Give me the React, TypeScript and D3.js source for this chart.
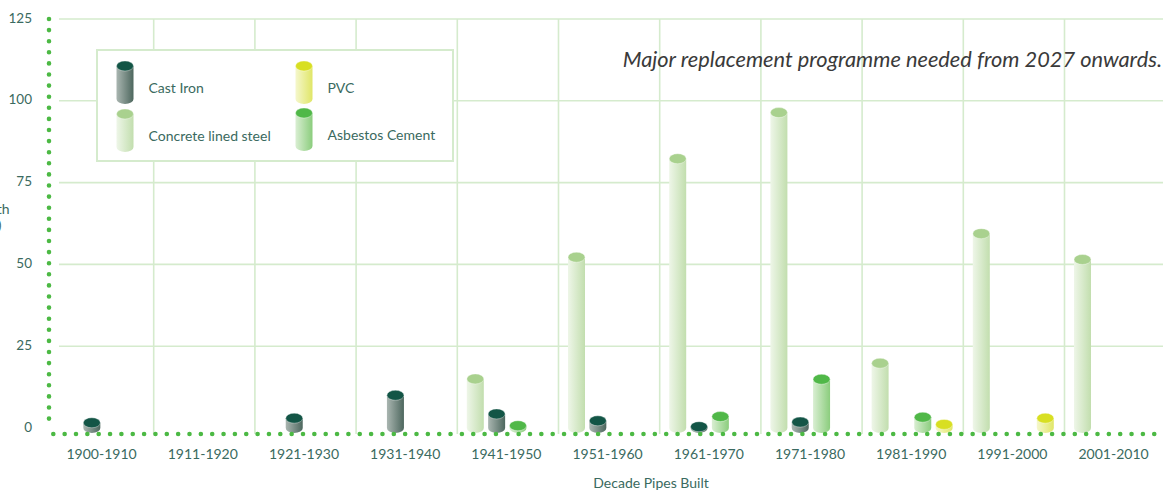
import React from "react";
import * as d3 from "d3";

const categories = ["1900-1910","1911-1920","1921-1930","1931-1940","1941-1950","1951-1960","1961-1970","1971-1980","1981-1990","1991-2000","2001-2010"];
const seriesNames = ["Concrete lined steel","Cast Iron","Asbestos Cement","PVC"];
const concreteLinedSteel = [0,0,0,0,15,52.2,82.3,96.4,19.8,59.4,51.5];
const castIron = [1.6,0,3,10,4.3,2.2,0.4,1.8,0,0,0];
const asbestosCement = [0,0,0,0,0.7,0,3.5,14.9,3.3,0,0];
const pvc = [0,0,0,0,0,0,0,0,1.1,3,0];
const yTicks = [0,25,50,75,100,125];

const W = 1163, H = 490;
const FONT = "Lato, 'Open Sans', sans-serif";
const TXT = "#3a6a60";
const GRID = "#d5ebcd";
const DOT = "#4cb944";

const styles: Record<string, {top: string; left: string; right: string}> = {
  "Concrete lined steel": { top: "#a9d18e", left: "#eef6e8", right: "#c2deae" },
  "Cast Iron": { top: "#135546", left: "#aab6b1", right: "#4d675e" },
  "Asbestos Cement": { top: "#50b848", left: "#d9eed2", right: "#8bcd7d" },
  "PVC": { top: "#d8df22", left: "#f5f7cc", right: "#e0e667" },
};
const gradId = (s: string) => "g-" + s.replace(/\s+/g, "-");

function Cylinder({ cx, yTop, yBot, name }: { cx: number; yTop: number; yBot: number; name: string }) {
  const rx = 8.5, ry = 5;
  const st = styles[name];
  const body = `M${cx - rx},${yTop} L${cx - rx},${yBot} A${rx},${ry} 0 0 0 ${cx + rx},${yBot} L${cx + rx},${yTop} Z`;
  return (
    <g>
      <path d={body} fill={`url(#${gradId(name)})`} />
      <ellipse cx={cx} cy={yTop} rx={rx} ry={ry} fill={st.top} stroke="rgba(255,255,255,0.45)" strokeWidth={0.8} />
    </g>
  );
}

export default function App() {
  const x = d3.scaleBand<string>().domain(categories).range([52.5, 52.5 + 11 * 101.2]).padding(0);
  const xi = d3.scaleBand<string>().domain(seriesNames).range([9.5, 90.5]).paddingInner(0.203).paddingOuter(0);
  const y = d3.scaleLinear().domain([0, 125]).range([428, 19]);
  const values: Record<string, number[]> = {
    "Concrete lined steel": concreteLinedSteel,
    "Cast Iron": castIron,
    "Asbestos Cement": asbestosCement,
    "PVC": pvc,
  };
  const boundaries = categories.slice(1).map((c) => x(c)!);
  const axisY = 434;

  const legendItems = [
    { name: "Cast Iron", lx: 125, ly: 66 },
    { name: "Concrete lined steel", lx: 125, ly: 114 },
    { name: "PVC", lx: 304, ly: 66 },
    { name: "Asbestos Cement", lx: 304, ly: 113 },
  ];

  return (
    <svg width={W} height={H} style={{ position: "absolute", left: 0, top: 0, background: "#fff" }} fontFamily={FONT}>
      <defs>
        {seriesNames.map((s) => (
          <linearGradient key={s} id={gradId(s)} x1="0" x2="1" y1="0" y2="0">
            <stop offset="0" stopColor={styles[s].left} />
            <stop offset="1" stopColor={styles[s].right} />
          </linearGradient>
        ))}
      </defs>

      {/* grid */}
      {yTicks.filter((t) => t > 0).map((t) => (
        <line key={t} x1={59} x2={W} y1={y(t)} y2={y(t)} stroke={GRID} strokeWidth={1.6} />
      ))}
      {boundaries.map((b, i) => (
        <line key={i} x1={b} x2={b} y1={y(125)} y2={axisY} stroke={GRID} strokeWidth={1.6} />
      ))}

      {/* y tick labels */}
      {yTicks.map((t) => (
        <text key={t} x={32} y={y(t) - 1.5} textAnchor="end" dominantBaseline="central" fontSize={13.5} fill={TXT}>{t}</text>
      ))}
      <text x={-11.5} y={214} textAnchor="middle" fontSize={14} fill={TXT}>Length</text>
      <text x={-11.5} y={230} textAnchor="middle" fontSize={14} fill={TXT}>(km)</text>

      {/* title */}
      <text x={1162} y={67} textAnchor="end" fontSize={21.8} fontStyle="italic" fontWeight={400} fill="#3a3a3a">Major replacement programme needed from 2027 onwards.</text>

      {/* legend */}
      <rect x={97} y={50} width={356} height={111} fill="#fff" stroke={GRID} strokeWidth={2} />
      {legendItems.map((it) => (
        <g key={it.name}>
          <Cylinder cx={it.lx} yTop={it.ly} yBot={it.ly + 33} name={it.name} />
          <text x={it.lx + 23.5} y={it.ly + 21} dominantBaseline="central" fontSize={14} fill={TXT}>{it.name}</text>
        </g>
      ))}

      {/* bars */}
      {categories.map((c, ci) => (
        <g key={c}>
          {seriesNames.map((s) => {
            const v = values[s][ci];
            if (!v) return null;
            const cx = x(c)! + xi(s)! + xi.bandwidth() / 2;
            return <Cylinder key={s} cx={cx} yTop={y(v)} yBot={y(0)} name={s} />;
          })}
        </g>
      ))}

      {/* dotted axes */}
      <line x1={49} x2={49} y1={19} y2={428} stroke={DOT} strokeWidth={4.6} strokeLinecap="round" strokeDasharray="0 11.1" />
      <line x1={53.3} x2={W + 5} y1={axisY} y2={axisY} stroke={DOT} strokeWidth={4.6} strokeLinecap="round" strokeDasharray="0 11.35" />

      {/* x labels */}
      {categories.map((c) => (
        <text key={c} x={x(c)! + x.bandwidth() / 2 - 1.5} y={453} textAnchor="middle" dominantBaseline="central" fontSize={14} fill={TXT}>{c}</text>
      ))}
      <text x={651} y={482} textAnchor="middle" dominantBaseline="central" fontSize={14} fill={TXT}>Decade Pipes Built</text>
    </svg>
  );
}
